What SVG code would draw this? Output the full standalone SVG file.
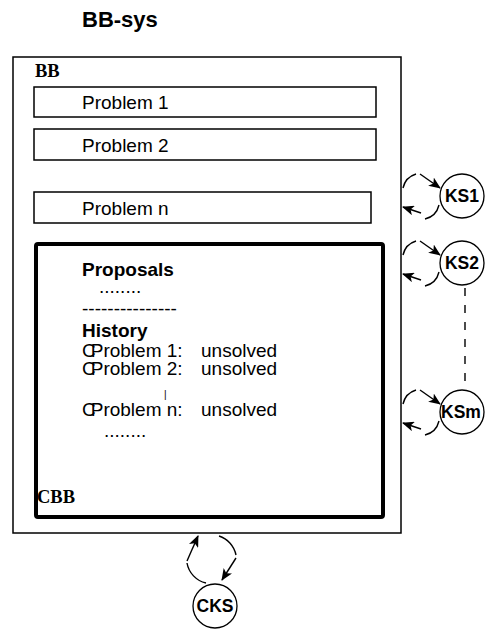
<svg xmlns="http://www.w3.org/2000/svg" width="485" height="630" viewBox="0 0 485 630">
  <defs>
    <style>
      .sans { font-family: "Liberation Sans", Arial, sans-serif; fill: #000; }
      .serif { font-family: "Liberation Serif", "Times New Roman", serif; font-weight: bold; fill: #000; }
      .box { fill: #fff; stroke: #000; stroke-width: 1.5; }
      .cbb { fill: #fff; stroke: #000; stroke-width: 4; }
      .ks { fill: #fff; stroke: #000; stroke-width: 1.3; }
      .loop { fill: none; stroke: #000; stroke-width: 1.4; }
      .lbl { font-size: 19px; }
      .ksl { font-size: 17.5px; font-weight: bold; }
    </style>
    <marker id="head" viewBox="0 0 12 10" refX="11" refY="5" markerWidth="12" markerHeight="10" markerUnits="userSpaceOnUse" orient="auto">
      <path d="M0,0 L12,5 L0,10 L3,5 z" fill="#000"/>
    </marker>
  </defs>

  <text class="sans" x="82" y="27" font-size="22" font-weight="bold">BB-sys</text>

  <!-- blackboard -->
  <g id="BB">
    <rect class="box" x="13" y="57" width="388" height="476"/>
    <text class="serif" x="35" y="77" font-size="18.5">BB</text>
  </g>

  <g id="problem1">
    <rect class="box" x="34" y="87" width="342" height="30"/>
    <text class="sans lbl" x="82" y="109">Problem 1</text>
  </g>
  <g id="problem2">
    <rect class="box" x="34" y="129" width="342" height="31"/>
    <text class="sans lbl" x="82" y="152">Problem 2</text>
  </g>
  <g id="problemN">
    <rect class="box" x="34" y="192" width="337" height="31"/>
    <text class="sans lbl" x="82" y="215">Problem n</text>
  </g>

  <!-- control blackboard -->
  <g id="CBB">
    <rect class="cbb" x="36" y="244" width="347" height="273" rx="2"/>
    <text class="sans lbl" x="82" y="276" font-weight="bold">Proposals</text>
    <text class="sans lbl" x="99" y="293">........</text>
    <text class="sans lbl" x="82" y="315">---------------</text>
    <text class="sans lbl" x="82" y="337" font-weight="bold">History</text>
    <text class="sans lbl" x="82" y="357">C<tspan dx="-5">Problem 1:</tspan></text>
    <text class="sans lbl" x="201" y="357">unsolved</text>
    <text class="sans lbl" x="82" y="375">C<tspan dx="-5">Problem 2:</tspan></text>
    <text class="sans lbl" x="201" y="375">unsolved</text>
    <text class="sans" x="164" y="398" font-size="10">|</text>
    <text class="sans lbl" x="82" y="416">C<tspan dx="-5">Problem n:</tspan></text>
    <text class="sans lbl" x="201" y="416">unsolved</text>
    <text class="sans lbl" x="104" y="437">........</text>
    <text class="serif" x="37" y="503" font-size="18.5">CBB</text>
  </g>

  <!-- knowledge sources -->
  <g id="KS1">
    <circle class="ks" cx="462" cy="196" r="22"/>
    <text class="sans ksl" x="462" y="202" text-anchor="middle">KS1</text>
  </g>
  <g id="KS2">
    <circle class="ks" cx="462" cy="263" r="22"/>
    <text class="sans ksl" x="462" y="269" text-anchor="middle">KS2</text>
  </g>
  <g id="KSm">
    <circle class="ks" cx="462" cy="412" r="22"/>
    <text class="sans ksl" x="441" y="418">KSm</text>
  </g>
  <g id="CKS">
    <circle class="ks" cx="215" cy="606" r="22"/>
    <text class="sans ksl" x="215" y="612" text-anchor="middle">CKS</text>
  </g>

  <!-- read/write loops -->
  <g id="connectors">
    <!-- KS1 -->
    <path class="loop" d="M403,188 A19,19 0 0 1 416,174"/>
    <path class="loop" d="M420,174 L440,188" marker-end="url(#head)"/>
    <path class="loop" d="M439,205 A19,19 0 0 1 425,219"/>
    <path class="loop" d="M421,213 L403,207" marker-end="url(#head)"/>
    <!-- KS2 -->
    <path class="loop" d="M403,255 A19,19 0 0 1 416,241"/>
    <path class="loop" d="M420,241 L440,255" marker-end="url(#head)"/>
    <path class="loop" d="M439,272 A19,19 0 0 1 425,286"/>
    <path class="loop" d="M421,280 L403,274" marker-end="url(#head)"/>
    <!-- KSm -->
    <path class="loop" d="M403,404 A19,19 0 0 1 416,390"/>
    <path class="loop" d="M420,390 L440,404" marker-end="url(#head)"/>
    <path class="loop" d="M439,421 A19,19 0 0 1 425,435"/>
    <path class="loop" d="M421,429 L403,423" marker-end="url(#head)"/>
    <!-- KS2 ... KSm -->
    <line class="loop" x1="465" y1="288" x2="465" y2="385" stroke-dasharray="8,9"/>
    <!-- CKS -->
    <path class="loop" d="M206,583 A25,25 0 0 1 187,563"/>
    <path class="loop" d="M187,561 L198,536" marker-end="url(#head)"/>
    <path class="loop" d="M219,536 A25,25 0 0 1 236,555"/>
    <path class="loop" d="M236,558 L222,580" marker-end="url(#head)"/>
  </g>
</svg>
